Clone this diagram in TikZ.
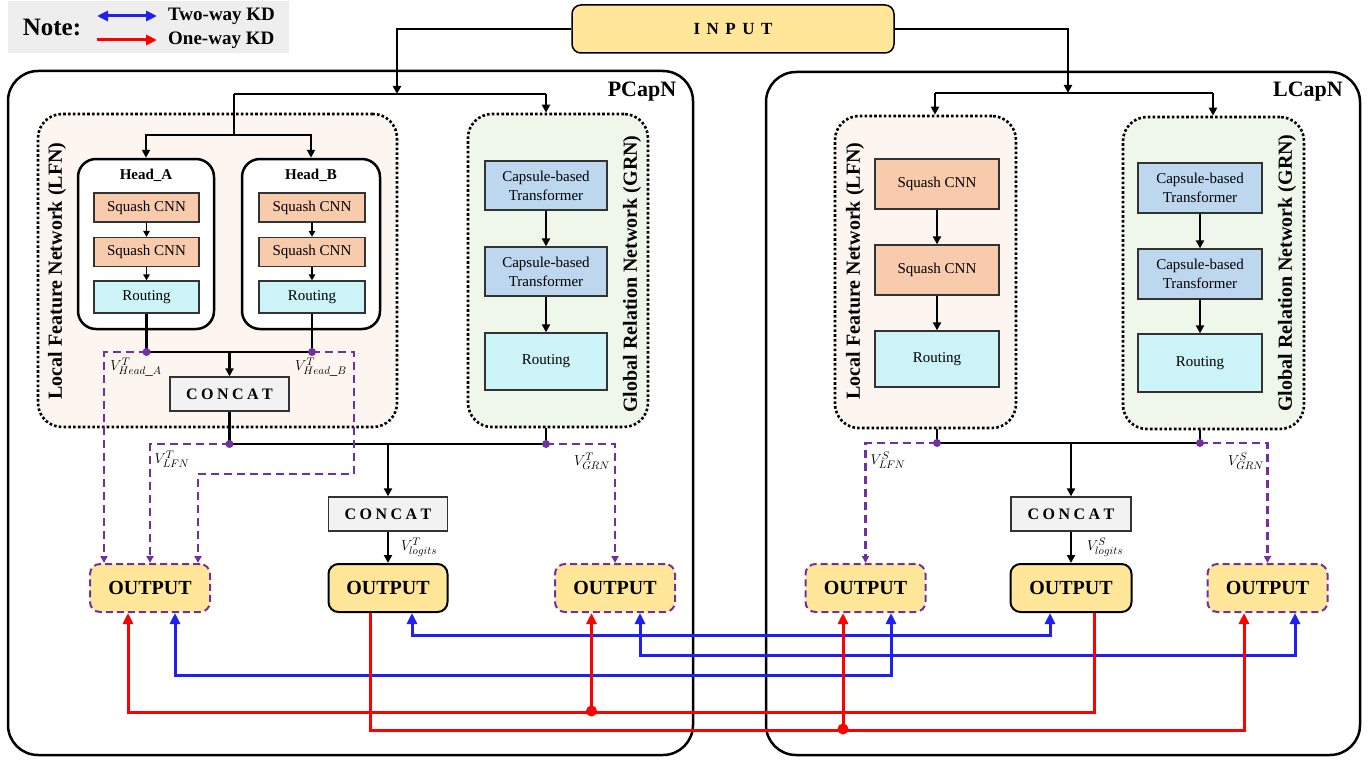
\documentclass[tikz,border=0pt]{standalone}
\usepackage{fontspec}
\setmainfont{Liberation Serif}
\usetikzlibrary{arrows.meta,calc}
\definecolor{inyel}{HTML}{FFE699}
\definecolor{sqor}{HTML}{F8CBAD}
\definecolor{rout}{HTML}{CCF4F8}
\definecolor{caps}{HTML}{BDD7EE}
\definecolor{cgray}{HTML}{F2F2F2}
\definecolor{lfnbg}{HTML}{FDF5F0}
\definecolor{grnbg}{HTML}{EFF6EA}
\definecolor{notebg}{HTML}{EEEEEE}
\definecolor{pur}{HTML}{7030A0}
\definecolor{kdblue}{HTML}{2020F0}
\definecolor{kdred}{HTML}{FF0000}
\newcommand\fsz[2]{\fontsize{#1}{#2}\selectfont}
\newcommand\lsp{\hspace{3.5pt}}
\newcommand\isp{\hspace{6.5pt}}
\begin{document}
\begin{tikzpicture}[x=1pt,y=-1pt,
  bigbox/.style={draw, line width=2.5pt, rounded corners=30pt, inner sep=0pt},
  subbox/.style={draw, line width=2.6pt, dash pattern=on 2.6pt off 2.2pt, rounded corners=24pt, inner sep=0pt},
  headbox/.style={draw, line width=2.5pt, rounded corners=18pt, fill=white, inner sep=0pt},
  blk/.style={draw=black!80, line width=1.3pt, inner sep=0pt, font=\fsz{15}{19}, align=center},
  sqbox/.style={blk, fill=sqor},
  rtbox/.style={blk, fill=rout},
  cpbox/.style={blk, fill=caps},
  ccbox/.style={blk, fill=cgray, minimum width=119pt, minimum height=34pt, font=\fsz{16}{19}\bfseries},
  outbase/.style={fill=inyel, rounded corners=10pt, minimum width=120pt, minimum height=48pt, inner sep=0pt, font=\fsz{20}{24}\bfseries},
  outsolid/.style={outbase, draw=black, line width=2pt},
  outdash/.style={outbase, draw=pur, line width=2pt, dash pattern=on 7pt off 4pt},
  cline/.style={line width=2.2pt},
  carr/.style={cline, -{Triangle[length=8pt,width=8pt]}},
  sarr/.style={line width=1.8pt, -{Triangle[length=6pt,width=6.5pt]}},
  pdash/.style={draw=pur, line width=2.2pt, dash pattern=on 8pt off 5pt, -{Triangle[length=7pt,width=7pt]}},
  kdb/.style={draw=kdblue, line width=3pt, {Triangle[length=11pt,width=10pt]}-{Triangle[length=11pt,width=10pt]}},
  kdr/.style={draw=kdred, line width=3pt, -{Triangle[length=11pt,width=10pt]}},
  lab/.style={font=\fsz{15}{18}, inner sep=0pt},
  rotlab/.style={rotate=90, font=\fsz{20}{24}\bfseries, inner sep=0pt}
]
\useasboundingbox (0,0) rectangle (1369,760);

% ---------- note ----------
\fill[notebg] (8,1) rectangle (289,53);
\node[font=\fsz{25}{28}\bfseries, inner sep=0pt] (note) at (52,27) {Note:};
\coordinate (lb1) at (97,16); \coordinate (lb2) at (157,16);
\draw[kdb] (lb1) -- (lb2);
\coordinate (lr1) at (97,40); \coordinate (lr2) at (157,40);
\draw[kdr] (lr1) -- (lr2);
\node[anchor=west, font=\fsz{19}{22}\bfseries, inner sep=0pt] (two) at (168,16) {Two-way KD};
\node[anchor=west, font=\fsz{19}{22}\bfseries, inner sep=0pt] (one) at (168,40) {One-way KD};

% ---------- input ----------
\node[draw, line width=1.5pt, fill=inyel, rounded corners=9pt, minimum width=322pt, minimum height=48pt, inner sep=0pt, font=\fsz{17}{20}\bfseries] (input) at (733,29) {I\isp N\isp P\isp U\isp T};

% ---------- big boxes ----------
\node[bigbox, minimum width=685pt, minimum height=684pt] (pcap) at (350.5,413) {};
\node[bigbox, minimum width=594pt, minimum height=683pt] (lcap) at (1063,413.5) {};
\node[font=\fsz{22}{26}\bfseries, inner sep=0pt] (pcapl) at (642,92) {PCapN};
\node[font=\fsz{22}{26}\bfseries, inner sep=0pt] (lcapl) at (1308,92) {LCapN};

% ---------- PCapN LFN ----------
\node[subbox, fill=lfnbg, minimum width=359pt, minimum height=313pt] (lfnP) at (217.5,270.5) {};
\node[rotlab] (lfnPl) at (57,271) {Local Feature Network (LFN)};
\node[headbox, minimum width=136pt, minimum height=170pt] (hA) at (146,244) {};
\node[headbox, minimum width=138pt, minimum height=170pt] (hB) at (311,244) {};
\node[font=\fsz{15}{18}\bfseries, inner sep=0pt] (hAl) at (146,175) {Head\_A};
\node[font=\fsz{15}{18}\bfseries, inner sep=0pt] (hBl) at (311,175) {Head\_B};
\node[sqbox, minimum width=105pt, minimum height=29pt] (a1) at (146.5,207.5) {Squash CNN};
\node[sqbox, minimum width=105pt, minimum height=29pt] (a2) at (146.5,252) {Squash CNN};
\node[rtbox, minimum width=105pt, minimum height=32pt] (a3) at (146.5,297) {Routing};
\node[sqbox, minimum width=106pt, minimum height=29pt] (b1) at (312,207.5) {Squash CNN};
\node[sqbox, minimum width=106pt, minimum height=29pt] (b2) at (312,252) {Squash CNN};
\node[rtbox, minimum width=106pt, minimum height=32pt] (b3) at (312,297) {Routing};
\draw[sarr] (a1) -- (a2);
\draw[sarr] (a2) -- (a3);
\draw[sarr] (b1) -- (b2);
\draw[sarr] (b2) -- (b3);

% ---------- PCapN GRN ----------
\node[subbox, fill=grnbg, minimum width=180pt, minimum height=313pt] (grnP) at (558,270.5) {};
\node[rotlab] (grnPl) at (632,274) {Global Relation Network (GRN)};
\node[cpbox, minimum width=122pt, minimum height=49pt] (g1) at (546,185.5) {Capsule-based\\Transformer};
\node[cpbox, minimum width=122pt, minimum height=49pt] (g2) at (546,271.5) {Capsule-based\\Transformer};
\node[rtbox, minimum width=122pt, minimum height=57pt] (g3) at (546,361.5) {Routing};
\draw[carr] (g1) -- (g2);
\draw[carr] (g2) -- (g3);

% ---------- PCapN top connectors ----------
\coordinate (pSplit) at (397,94);
\coordinate (pL1) at (234,94);
\coordinate (pR1) at (546,94);
\coordinate (pL2) at (234,135);
\draw[carr] (input.west) -| (pSplit);
\draw[cline] (pL1) -- (pR1);
\draw[carr] (pR1) -- (pR1 |- grnP.north);
\draw[cline] (pL1) -- (pL2);
\draw[carr] (pL2) -| (hA.north);
\draw[carr] (pL2) -| (hB.north);

% ---------- PCapN lower part ----------
\coordinate (dA) at (146.5,352);
\coordinate (dB) at (312,352);
\node[ccbox] (catA) at (229.5,394) {C\lsp O\lsp N\lsp C\lsp A\lsp T};
\draw[cline] (a3.south) -- (dA);
\draw[cline] (b3.south) -- (dB);
\draw[cline] (dA) -- (dB);
\draw[carr] (catA.north |- dA) -- (catA.north);
\coordinate (dL) at (229.5,444);
\coordinate (dG) at (546,444);
\coordinate (jP) at (388,444);
\draw[cline] (catA.south) -- (dL);
\draw[cline] (dL) -- (dG);
\draw[cline] (grnP.south -| dG) -- (dG);
\node[ccbox] (catP) at (388,514) {C\lsp O\lsp N\lsp C\lsp A\lsp T};
\draw[carr] (jP) -- (catP.north);

\node[outdash] (outLP) at (150,588) {OUTPUT};
\node[outsolid, minimum width=119pt] (outP) at (388,588) {OUTPUT};
\node[outdash] (outGP) at (615,588) {OUTPUT};
\draw[carr] (catP) -- (outP);

\draw[pdash] (dA) -| ([xshift=15pt]outLP.north west);
\draw[pdash] (dB) -- (354,352) -- (354,474) -| ([xshift=-13pt]outLP.north east);
\draw[pdash] (dL) -| (outLP.north);
\draw[pdash] (dG) -| (outGP.north);
\foreach \d in {dA,dB,dL,dG} \fill[pur] (\d) circle (4pt);

\node[lab] (vha) at (136,367) {$V^{T}_{Head\_A}$};
\node[lab] (vhb) at (321,367) {$V^{T}_{Head\_B}$};
\node[lab] (vlfn) at (172,459) {$V^{T}_{LFN}$};
\node[lab] (vgrn) at (592,461) {$V^{T}_{GRN}$};
\node[lab] (vlog) at (419,547) {$V^{T}_{logits}$};

% ---------- LCapN ----------
\node[subbox, fill=lfnbg, minimum width=181pt, minimum height=312pt] (lfnL) at (925.5,272) {};
\node[rotlab] (lfnLl) at (855,271) {Local Feature Network (LFN)};
\node[sqbox, minimum width=124pt, minimum height=50pt] (s1) at (937,184) {Squash CNN};
\node[sqbox, minimum width=124pt, minimum height=50pt] (s2) at (937,270) {Squash CNN};
\node[rtbox, minimum width=124pt, minimum height=56pt] (s3) at (937,359) {Routing};
\draw[carr] (s1) -- (s2);
\draw[carr] (s2) -- (s3);

\node[subbox, fill=grnbg, minimum width=181pt, minimum height=312pt] (grnL) at (1213.5,273) {};
\node[rotlab] (grnLl) at (1287,273) {Global Relation Network (GRN)};
\node[cpbox, minimum width=124pt, minimum height=50pt] (c1) at (1200,188) {Capsule-based\\Transformer};
\node[cpbox, minimum width=124pt, minimum height=50pt] (c2) at (1200,274) {Capsule-based\\Transformer};
\node[rtbox, minimum width=124pt, minimum height=58pt] (c3) at (1200,363) {Routing};
\draw[carr] (c1) -- (c2);
\draw[carr] (c2) -- (c3);

\coordinate (lSplit) at (1068,93);
\coordinate (lL1) at (935,93);
\coordinate (lR1) at (1213,93);
\draw[carr] (input.east) -| (lSplit);
\draw[cline] (lL1) -- (lR1);
\draw[carr] (lL1) -- (lL1 |- lfnL.north);
\draw[carr] (lR1) -- (lR1 |- grnL.north);

\coordinate (dLL) at (937,443);
\coordinate (dGL) at (1200,443);
\coordinate (jL) at (1071,443);
\draw[cline] (lfnL.south -| dLL) -- (dLL);
\draw[cline] (grnL.south -| dGL) -- (dGL);
\draw[cline] (dLL) -- (dGL);
\node[ccbox, minimum width=120pt] (catL) at (1071,514) {C\lsp O\lsp N\lsp C\lsp A\lsp T};
\draw[carr] (jL) -- (catL.north);

\node[outdash] (outLL) at (865.5,588) {OUTPUT};
\node[outsolid, minimum width=121pt] (outCL) at (1071,588) {OUTPUT};
\node[outdash] (outGL) at (1267.5,588) {OUTPUT};
\draw[carr] (catL) -- (outCL);

\draw[pdash] (dLL) -| (outLL.north);
\draw[pdash] (dGL) -| (outGL.north);
\foreach \d in {dLL,dGL} \fill[pur] (\d) circle (4pt);

\node[lab] (vslfn) at (888,460) {$V^{S}_{LFN}$};
\node[lab] (vsgrn) at (1246,461) {$V^{S}_{GRN}$};
\node[lab] (vslog) at (1105,547) {$V^{S}_{logits}$};

% ---------- KD connectors ----------
\draw[kdb] ([xshift=24pt]outP.south) -- ++(0,22) -| ([xshift=-21pt]outCL.south);
\draw[kdb] ([xshift=25pt]outGP.south) -- ++(0,42) -| ([xshift=27.5pt]outGL.south);
\draw[kdb] ([xshift=25pt]outLP.south) -- ++(0,62) -| ([xshift=25.5pt]outLL.south);

\draw[kdr] ([xshift=23pt]outCL.south) -- ++(0,99) -| ([xshift=-22pt]outLP.south);
\coordinate (rj1) at (591.5,711);
\draw[kdr] (rj1) -- (rj1 |- outGP.south);
\fill[kdred] (rj1) circle (5.5pt);
\draw[kdr] ([xshift=-18pt]outP.south) -- ++(0,117) -| ([xshift=-23.5pt]outGL.south);
\coordinate (rj2) at (843,729);
\draw[kdr] (rj2) -- (rj2 |- outLL.south);
\fill[kdred] (rj2) circle (5.5pt);
\end{tikzpicture}
\end{document}
